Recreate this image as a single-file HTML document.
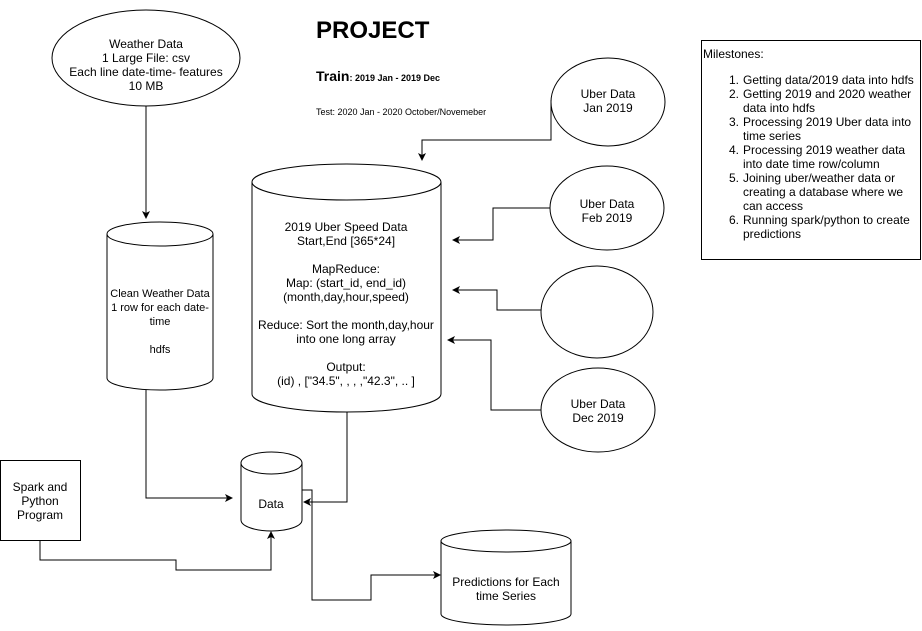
<!DOCTYPE html>
<html><head><meta charset="utf-8"><style>
html,body{margin:0;padding:0;background:#fff;}
svg{display:block;}
text{font-family:"Liberation Sans",Arial,sans-serif;font-size:12px;fill:#000;}
</style></head><body>
<svg width="922" height="631" viewBox="0 0 922 631" xmlns="http://www.w3.org/2000/svg">
<defs>
<marker id="a" markerWidth="10" markerHeight="10" refX="8" refY="5" orient="auto" markerUnits="userSpaceOnUse">
<path d="M1,1 L9,5 L1,9 L3,5 Z" fill="#000"/>
</marker>
</defs>
<g fill="none" stroke="#000" stroke-width="1">
<ellipse cx="146" cy="58" rx="94" ry="48" fill="#fff"/>
<path d="M146,106 V218" marker-end="url(#a)"/>
<path d="M107,234 V378 A53,12 0 0 0 213,378 V234" fill="#fff"/>
<ellipse cx="160" cy="234" rx="53" ry="12" fill="#fff"/>
<path d="M146,390 V498 H232" marker-end="url(#a)"/>
<path d="M252,182 V394 A94.5,18 0 0 0 441,394 V182" fill="#fff"/>
<ellipse cx="346.5" cy="182" rx="94.5" ry="18" fill="#fff"/>
<path d="M347,412 V502 H304" marker-end="url(#a)"/>
<path d="M241,463 V520 A30.5,11 0 0 0 302,520 V463" fill="#fff"/>
<ellipse cx="271.5" cy="463" rx="30.5" ry="11" fill="#fff"/>
<rect x="0.5" y="460.5" width="80" height="80" fill="#fff"/>
<path d="M40,540 V560 H176 V570 H271 V532" marker-end="url(#a)"/>
<path d="M302,490 H312 V600 H371 V575 H440" marker-end="url(#a)"/>
<path d="M441,541 V614 A65,11 0 0 0 571,614 V541" fill="#fff"/>
<ellipse cx="506" cy="541" rx="65" ry="11" fill="#fff"/>
<ellipse cx="608" cy="102" rx="57" ry="44" fill="#fff"/>
<path d="M551,100 V140 H422 V160" marker-end="url(#a)"/>
<ellipse cx="607" cy="208" rx="57" ry="42" fill="#fff"/>
<path d="M550,208 H493 V240 H453" marker-end="url(#a)"/>
<ellipse cx="597" cy="312" rx="56" ry="46" fill="#fff"/>
<path d="M541,310 H497 V290 H453" marker-end="url(#a)"/>
<ellipse cx="598" cy="410" rx="57" ry="42" fill="#fff"/>
<path d="M541,410 H491 V340 H448" marker-end="url(#a)"/>
<rect x="701.5" y="40.5" width="219" height="219" fill="#fff"/>
</g>
<g text-anchor="middle">
<text x="146" y="48">Weather Data</text>
<text x="146" y="62">1 Large File: csv</text>
<text x="146" y="76">Each line date-time- features</text>
<text x="146" y="90">10 MB</text>
<g style="font-size:11px">
<text x="160" y="297" style="font-size:11px">Clean Weather Data</text>
<text x="160" y="311" style="font-size:11px">1 row for each date-</text>
<text x="160" y="325" style="font-size:11px">time</text>
<text x="160" y="353" style="font-size:11px">hdfs</text>
</g>
<text x="346" y="231">2019 Uber Speed Data</text>
<text x="346" y="245">Start,End [365*24]</text>
<text x="346" y="273">MapReduce:</text>
<text x="346" y="287">Map: (start_id, end_id)</text>
<text x="346" y="301">(month,day,hour,speed)</text>
<text x="346" y="329">Reduce: Sort the month,day,hour</text>
<text x="346" y="343">into one long array</text>
<text x="346" y="371">Output:</text>
<text x="346" y="385">(id) , ["34.5", , , ,"42.3", .. ]</text>
<text x="271" y="508">Data</text>
<text x="40" y="491">Spark and</text>
<text x="40" y="505">Python</text>
<text x="40" y="519">Program</text>
<text x="506" y="586">Predictions for Each</text>
<text x="506" y="600">time Series</text>
<text x="608" y="98">Uber Data</text>
<text x="608" y="112">Jan 2019</text>
<text x="607" y="208">Uber Data</text>
<text x="607" y="222">Feb 2019</text>
<text x="598" y="408">Uber Data</text>
<text x="598" y="422">Dec 2019</text>
</g>
<text x="316" y="38" style="font-size:24px;font-weight:bold">PROJECT</text>
<text x="316" y="81"><tspan style="font-size:14px;font-weight:bold">Train</tspan><tspan style="font-size:9px;font-weight:bold">: 2019 Jan - 2019 Dec</tspan></text>
<text x="316" y="115" style="font-size:9px">Test: 2020 Jan - 2020 October/Novemeber</text>
<text x="703" y="58">Milestones:</text>
<g>
<text x="729" y="84">1.</text><text x="743" y="84">Getting data/2019 data into hdfs</text>
<text x="729" y="98">2.</text><text x="743" y="98">Getting 2019 and 2020 weather</text>
<text x="743" y="112">data into hdfs</text>
<text x="729" y="126">3.</text><text x="743" y="126">Processing 2019 Uber data into</text>
<text x="743" y="140">time series</text>
<text x="729" y="154">4.</text><text x="743" y="154">Processing 2019 weather data</text>
<text x="743" y="168">into date time row/column</text>
<text x="729" y="182">5.</text><text x="743" y="182">Joining uber/weather data or</text>
<text x="743" y="196">creating a database where we</text>
<text x="743" y="210">can access</text>
<text x="729" y="224">6.</text><text x="743" y="224">Running spark/python to create</text>
<text x="743" y="238">predictions</text>
</g>
</svg>
</body></html>
